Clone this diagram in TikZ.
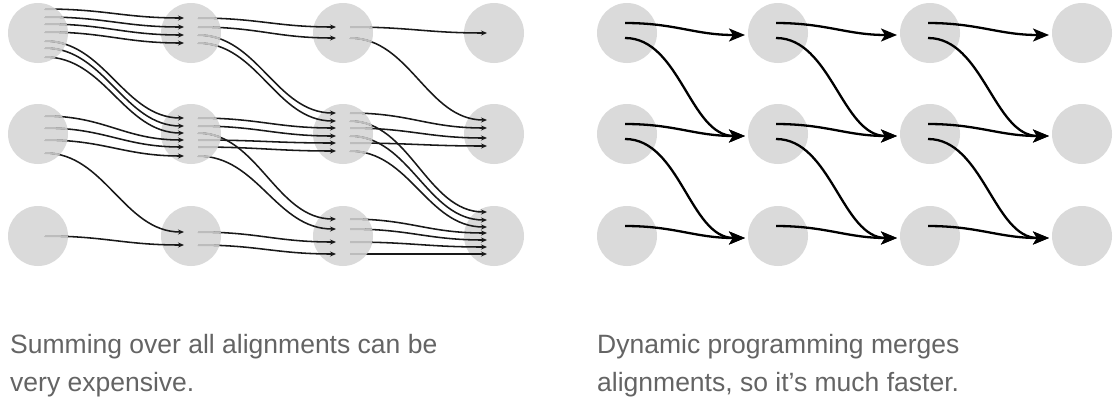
\documentclass[tikz,border=0pt]{standalone}
\usepackage{fontspec}
\setmainfont{Liberation Sans}
\usetikzlibrary{calc,arrows.meta}
\definecolor{circ}{RGB}{218,218,218}
\definecolor{inner}{RGB}{188,188,188}
\definecolor{ink}{RGB}{25,25,25}
\definecolor{txt}{RGB}{100,100,100}
\begin{document}
\begin{tikzpicture}[x=1pt,y=-1pt,
  dot/.style={circle,fill=circ,minimum size=60pt,inner sep=0pt,draw=none},
  lline/.style={draw=ink,line width=1.55pt,-{Stealth[length=6pt,width=5pt]}},
  lgray/.style={draw=inner,line width=2pt},
  rline/.style={draw=black,line width=2.3pt,-{Stealth[length=16pt,width=13pt,inset=4pt]}},
  captxt/.style={anchor=base west,font=\fontsize{26.5}{38}\selectfont,text=txt,inner sep=0pt}]
\useasboundingbox (0,0) rectangle (1115,405);
% nodes
\foreach \c/\x in {0/38,1/191,2/343,3/494}
  \foreach \r/\y in {0/33,1/134,2/236}
    \node[dot] (L\r\c) at (\x,\y) {};
\foreach \c/\x in {0/627,1/778,2/930,3/1082}
  \foreach \r/\y in {0/33,1/134,2/236}
    \node[dot] (R\r\c) at (\x,\y) {};
% left: all alignments
\def\segs{L00/-24/L01/-15, L01/-15/L02/-6, L02/-6/L03/0,
L00/-16/L01/-6, L01/-6/L02/5, L02/5/L13/-14,
L00/-9/L01/2, L01/2/L12/-21, L12/-21/L13/-6,
L00/-1/L01/10, L01/10/L12/-13, L12/-13/L23/-24,
L00/8/L11/-16, L11/-16/L12/-6, L12/-6/L13/4,
L00/15/L11/-8, L11/-8/L12/2, L12/2/L23/-16,
L00/24/L11/-1, L11/-1/L22/-17, L22/-17/L23/-3,
L10/-18/L11/6, L11/6/L12/9, L12/9/L13/12,
L10/-6/L11/13, L11/13/L12/17, L12/17/L23/-9,
L10/6/L11/22, L11/22/L22/-7, L22/-7/L23/4,
L10/19/L21/-4, L21/-4/L22/6, L22/6/L23/11,
L20/0/L21/9, L21/9/L22/18, L22/18/L23/18}
\foreach \a/\oa/\b/\ob in \segs
  \draw[lline] ($(\a)+(7,\oa)$) .. controls +(60,0) and +(-60,0) .. ($(\b)+(-7,\ob)$);
\begin{scope}
  \clip \foreach \n in {L00,L01,L02,L10,L11,L12,L20,L21,L22} {($(\n)+(0,-31)$) rectangle ($(\n)+(31,31)$)};
  \clip \foreach \n in {L00,L01,L02,L10,L11,L12,L20,L21,L22} {(\n) circle[radius=30]};
  \foreach \a/\oa/\b/\ob in \segs
    \draw[lgray] ($(\a)+(7,\oa)$) .. controls +(60,0) and +(-60,0) .. ($(\b)+(-7,\ob)$);
\end{scope}
% right: dynamic programming
\foreach \r in {0,1,2}
  \foreach \c/\n in {0/1,1/2,2/3}
    \draw[rline] ($(R\r\c)+(-2,-10)$) .. controls +(50,0) and +(-50,0) .. ($(R\r\n)+(-33,2)$);
\foreach \r/\s in {0/1,1/2}
  \foreach \c/\n in {0/1,1/2,2/3}
    \draw[rline] ($(R\r\c)+(-2,5)$) .. controls +(55,0) and +(-55,0) .. ($(R\s\n)+(-33,2)$);
% captions
\node[captxt] (t1) at (10,353) {Summing over all alignments can be};
\node[captxt] (t2) at (10,391) {very expensive.};
\node[captxt] (t3) at (597,353) {Dynamic programming merges};
\node[captxt] (t4) at (597,391) {alignments, so it’s much faster.};
\end{tikzpicture}
\end{document}
